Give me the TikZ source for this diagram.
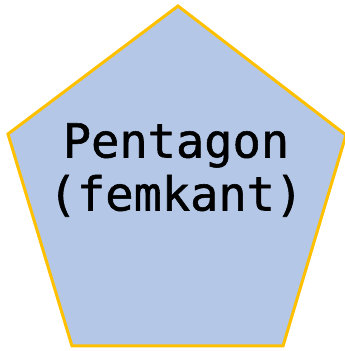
\documentclass[tikz,border=0pt]{standalone}
\usepackage{fontspec}
\newfontfamily\monofont[FakeBold=1.2]{DejaVu Sans Mono}
\definecolor{pfill}{HTML}{B4C7E7}
\definecolor{pline}{HTML}{FFC000}
\tikzset{penta/.style={fill=pfill,draw=pline,line width=3pt,line join=miter}}
\begin{document}
\begin{tikzpicture}[x=1pt,y=1pt]
\useasboundingbox (0,0) rectangle (345,351);
\draw[penta] (178,345) -- (346,216) -- (283,5) -- (72,5) -- (8,217) -- cycle;
\node[align=center,font=\monofont\fontsize{47}{53}\selectfont,inner sep=0pt] (label) at (176,181) {Pentagon\\(femkant)};
\end{tikzpicture}
\end{document}
